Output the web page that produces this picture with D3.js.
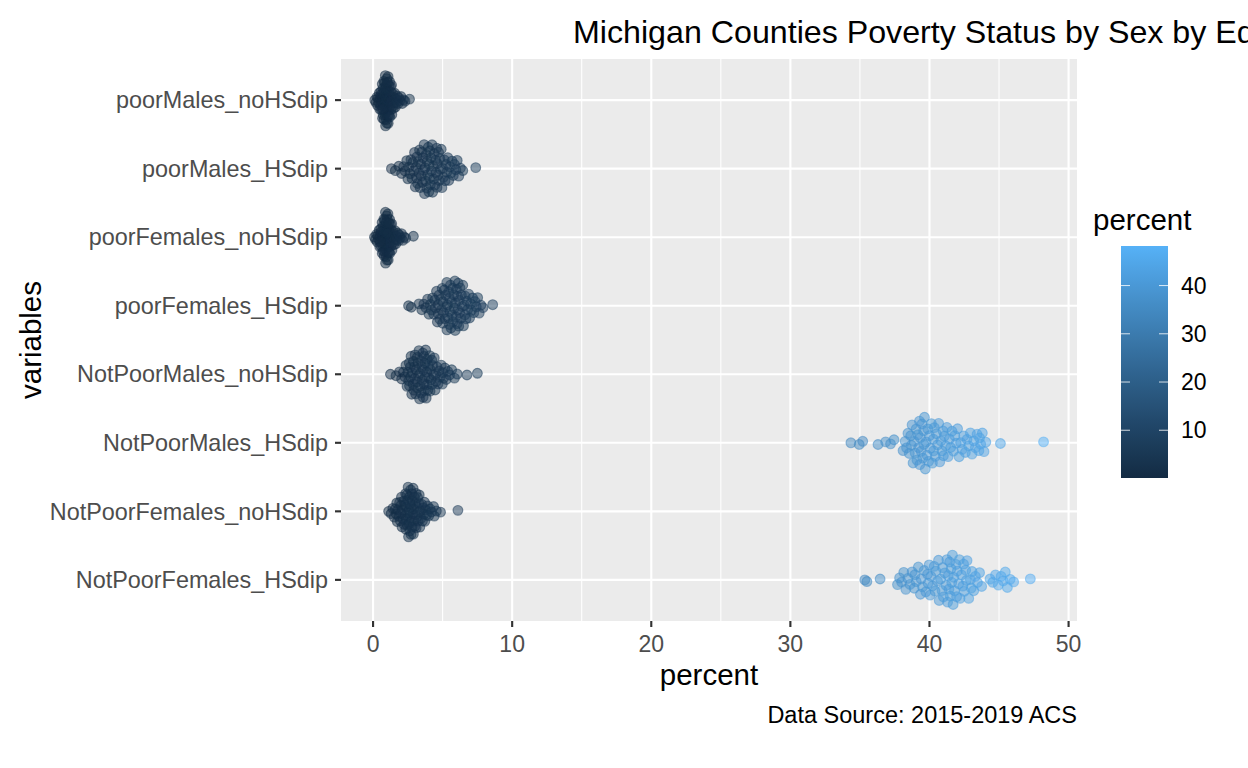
<!DOCTYPE html>
<html>
<head>
<meta charset="utf-8">
<script src="https://cdn.jsdelivr.net/npm/d3@7"></script>
<style>
  body { margin: 0; background: #fff; }
  text { font-family: "Liberation Sans", Arial, Helvetica, sans-serif; }
</style>
</head>
<body>
<div id="vis"></div>
<script>
// categories, top to bottom
const categories = [
  "poorMales_noHSdip", "poorMales_HSdip", "poorFemales_noHSdip", "poorFemales_HSdip",
  "NotPoorMales_noHSdip", "NotPoorMales_HSdip", "NotPoorFemales_noHSdip", "NotPoorFemales_HSdip"
];

// percent per county (83 counties)
const poorMales_noHSdip = [
  0.12, 0.21, 0.28, 0.33, 0.37, 0.41, 0.45, 0.48, 0.52, 0.55,
  0.57, 0.6, 0.62, 0.64, 0.66, 0.68, 0.7, 0.72, 0.73, 0.75,
  0.77, 0.78, 0.8, 0.81, 0.83, 0.84, 0.86, 0.87, 0.88, 0.9,
  0.91, 0.92, 0.94, 0.95, 0.96, 0.97, 0.99, 1.0, 1.01, 1.02,
  1.04, 1.05, 1.06, 1.08, 1.09, 1.1, 1.12, 1.13, 1.15, 1.16,
  1.18, 1.19, 1.21, 1.23, 1.25, 1.27, 1.29, 1.31, 1.33, 1.35,
  1.38, 1.4, 1.43, 1.46, 1.49, 1.52, 1.56, 1.6, 1.64, 1.69,
  1.74, 1.8, 1.86, 1.93, 2.01, 2.1, 2.19, 2.3, 2.62, 0.86,
  1.03, 1.2, 0.7
];
const poorMales_HSdip = [
  1.32, 1.6, 1.85, 2.05, 2.2, 2.3, 2.42, 2.5, 2.58, 2.66,
  2.72, 2.8, 2.86, 2.92, 2.98, 3.04, 3.1, 3.15, 3.2, 3.25,
  3.3, 3.34, 3.38, 3.43, 3.47, 3.51, 3.55, 3.59, 3.63, 3.67,
  3.7, 3.74, 3.78, 3.82, 3.86, 3.9, 3.93, 3.97, 4.01, 4.05,
  4.08, 4.12, 4.16, 4.2, 4.24, 4.28, 4.32, 4.36, 4.4, 4.44,
  4.49, 4.53, 4.57, 4.62, 4.66, 4.71, 4.75, 4.8, 4.85, 4.9,
  4.95, 5.0, 5.06, 5.12, 5.18, 5.24, 5.3, 5.37, 5.44, 5.52,
  5.6, 5.68, 5.77, 5.86, 5.95, 6.05, 6.16, 6.28, 6.45, 7.38,
  3.12, 4.03, 4.6
];
const poorFemales_noHSdip = [
  0.1, 0.18, 0.25, 0.3, 0.35, 0.4, 0.44, 0.48, 0.51, 0.55,
  0.58, 0.6, 0.63, 0.65, 0.68, 0.7, 0.72, 0.74, 0.76, 0.78,
  0.8, 0.81, 0.83, 0.85, 0.86, 0.88, 0.89, 0.91, 0.92, 0.94,
  0.95, 0.97, 0.98, 1.0, 1.01, 1.03, 1.04, 1.06, 1.07, 1.09,
  1.1, 1.12, 1.14, 1.15, 1.17, 1.19, 1.21, 1.23, 1.25, 1.27,
  1.29, 1.31, 1.34, 1.36, 1.39, 1.42, 1.45, 1.48, 1.51, 1.55,
  1.59, 1.63, 1.67, 1.72, 1.77, 1.83, 1.89, 1.96, 2.04, 2.13,
  2.23, 2.35, 2.9, 0.75, 0.9, 1.05, 0.66, 0.84, 1.2, 0.52,
  1.0, 0.93, 1.13
];
const poorFemales_HSdip = [
  2.55, 2.75, 3.3, 3.5, 3.65, 3.8, 3.92, 4.02, 4.12, 4.2,
  4.28, 4.36, 4.43, 4.5, 4.56, 4.62, 4.68, 4.74, 4.8, 4.86,
  4.92, 4.97, 5.02, 5.07, 5.12, 5.17, 5.22, 5.27, 5.31, 5.35,
  5.4, 5.44, 5.48, 5.52, 5.56, 5.6, 5.64, 5.68, 5.72, 5.76,
  5.8, 5.84, 5.88, 5.92, 5.96, 6.0, 6.04, 6.08, 6.12, 6.16,
  6.2, 6.25, 6.3, 6.35, 6.4, 6.45, 6.5, 6.56, 6.62, 6.68,
  6.74, 6.8, 6.87, 6.94, 7.01, 7.08, 7.16, 7.24, 7.33, 7.42,
  7.52, 7.63, 7.75, 7.9, 8.6, 5.5, 5.9, 6.1, 4.7, 5.3,
  6.6, 5.0, 6.22
];
const NotPoorMales_noHSdip = [
  1.25, 1.65, 1.9, 2.05, 2.18, 2.28, 2.36, 2.44, 2.5, 2.56,
  2.62, 2.68, 2.73, 2.78, 2.83, 2.88, 2.93, 2.98, 3.02, 3.06,
  3.1, 3.14, 3.18, 3.22, 3.26, 3.3, 3.34, 3.38, 3.42, 3.46,
  3.5, 3.54, 3.58, 3.62, 3.66, 3.7, 3.74, 3.78, 3.82, 3.86,
  3.9, 3.94, 3.98, 4.02, 4.07, 4.12, 4.17, 4.22, 4.28, 4.34,
  4.4, 4.46, 4.53, 4.6, 4.67, 4.74, 4.82, 4.9, 4.98, 5.07,
  5.16, 5.26, 5.37, 5.5, 5.65, 5.85, 6.05, 6.75, 7.5, 3.6,
  3.2, 2.7, 4.1, 3.0, 3.75, 4.5, 2.9, 3.4, 5.0, 4.25,
  3.65, 2.6, 3.85
];
const NotPoorMales_HSdip = [
  34.35, 34.95, 35.2, 36.3, 36.85, 37.2, 37.45, 38.1, 38.25, 38.35,
  38.45, 38.55, 38.65, 38.75, 38.82, 38.9, 38.97, 39.04, 39.1, 39.16,
  39.22, 39.28, 39.34, 39.4, 39.46, 39.52, 39.58, 39.64, 39.7, 39.76,
  39.82, 39.88, 39.94, 40.0, 40.07, 40.14, 40.21, 40.28, 40.35, 40.42,
  40.5, 40.58, 40.66, 40.74, 40.82, 40.9, 40.98, 41.07, 41.16, 41.25,
  41.34, 41.43, 41.52, 41.62, 41.72, 41.82, 41.92, 42.02, 42.13, 42.24,
  42.35, 42.46, 42.58, 42.7, 42.82, 42.94, 43.06, 43.18, 43.3, 43.42,
  43.55, 43.68, 43.8, 43.92, 44.05, 45.1, 48.2, 39.3, 39.6, 40.3,
  38.7, 41.0, 43.6
];
const NotPoorFemales_noHSdip = [
  1.12, 1.3, 1.42, 1.52, 1.6, 1.67, 1.74, 1.8, 1.86, 1.91,
  1.96, 2.0, 2.04, 2.08, 2.12, 2.16, 2.2, 2.24, 2.28, 2.31,
  2.34, 2.37, 2.4, 2.43, 2.46, 2.49, 2.52, 2.55, 2.58, 2.61,
  2.64, 2.67, 2.7, 2.73, 2.76, 2.79, 2.82, 2.85, 2.88, 2.91,
  2.94, 2.97, 3.0, 3.03, 3.06, 3.09, 3.12, 3.16, 3.2, 3.24,
  3.28, 3.32, 3.36, 3.4, 3.45, 3.5, 3.55, 3.6, 3.66, 3.72,
  3.78, 3.85, 3.92, 4.0, 4.1, 4.2, 4.35, 4.55, 4.85, 6.1,
  2.6, 2.75, 2.5, 2.9, 3.1, 2.35, 3.3, 2.0, 2.8, 3.7,
  2.65, 1.7, 4.4
];
const NotPoorFemales_HSdip = [
  35.35, 35.5, 36.45, 37.7, 37.85, 38.0, 38.15, 38.3, 38.45, 38.6,
  38.75, 38.9, 39.05, 39.2, 39.35, 39.5, 39.62, 39.74, 39.86, 39.98,
  40.1, 40.22, 40.34, 40.46, 40.58, 40.7, 40.8, 40.9, 41.0, 41.1,
  41.2, 41.3, 41.4, 41.5, 41.6, 41.7, 41.8, 41.9, 42.0, 42.1,
  42.2, 42.3, 42.4, 42.5, 42.6, 42.7, 42.82, 42.94, 43.06, 43.18,
  43.3, 43.45, 43.6, 43.75, 44.35, 44.55, 44.75, 44.95, 45.15, 45.3,
  45.45, 45.6, 45.8, 46.05, 47.25, 41.45, 41.65, 41.55, 40.95, 42.15,
  41.35, 40.65, 42.45, 39.9, 41.75, 43.0, 38.95, 40.4, 41.25, 42.65,
  41.95, 40.05, 39.4
];

const xTicks = [0, 10, 20, 30, 40, 50];
const xMinor = [5, 15, 25, 35, 45];
const legendTicks = [10, 20, 30, 40];

const series = [
  poorMales_noHSdip, poorMales_HSdip, poorFemales_noHSdip, poorFemales_HSdip,
  NotPoorMales_noHSdip, NotPoorMales_HSdip, NotPoorFemales_noHSdip, NotPoorFemales_HSdip
];

const W = 1248, H = 768,
  panelL = 341, panelR = 1077, panelT = 59, panelB = 621;

const svg = d3.select("#vis").append("svg")
  .attr("width", W).attr("height", H)
  .attr("viewBox", `0 0 ${W} ${H}`);

const all = series.flat();
const ext = d3.extent(all);
const pad = (ext[1] - ext[0]) * 0.05;

const x = d3.scaleLinear().domain([ext[0] - pad, ext[1] + pad]).range([panelL, panelR]);
const y = d3.scalePoint().domain(categories).range([panelT, panelB]).padding(0.6);
const color = d3.scaleLinear().domain(ext).range(["#132B43", "#56B1F7"]).interpolate(d3.interpolateLab);

// panel + grid
svg.append("rect").attr("x", panelL).attr("y", panelT)
  .attr("width", panelR - panelL).attr("height", panelB - panelT).attr("fill", "#EBEBEB");

svg.append("g").selectAll("line").data(xMinor).join("line")
  .attr("x1", d => x(d)).attr("x2", d => x(d)).attr("y1", panelT).attr("y2", panelB)
  .attr("stroke", "#fff").attr("stroke-width", 1.07);
svg.append("g").selectAll("line").data(xTicks).join("line")
  .attr("x1", d => x(d)).attr("x2", d => x(d)).attr("y1", panelT).attr("y2", panelB)
  .attr("stroke", "#fff").attr("stroke-width", 2.13);
svg.append("g").selectAll("line").data(categories).join("line")
  .attr("x1", panelL).attr("x2", panelR).attr("y1", d => y(d)).attr("y2", d => y(d))
  .attr("stroke", "#fff").attr("stroke-width", 2.13);

// quasirandom offsets (like ggbeeswarm::geom_quasirandom)
function vdc(n) {
  let v = 0, denom = 1;
  while (n > 0) { denom *= 2; v += (n % 2) / denom; n = Math.floor(n / 2); }
  return v;
}
function quasiOffsets(vals, width) {
  const n = vals.length;
  const sorted = vals.slice().sort(d3.ascending);
  const iqr = d3.quantile(sorted, 0.75) - d3.quantile(sorted, 0.25);
  const bw = 0.9 * Math.min(d3.deviation(vals), iqr / 1.34) * Math.pow(n, -0.2) * 0.5;
  const dens = vals.map(v => d3.sum(vals, u => Math.exp(-0.5 * ((v - u) / bw) ** 2)));
  const maxD = d3.max(dens);
  const order = d3.range(n).sort((a, b) => vals[a] - vals[b] || a - b);
  const rank = new Array(n);
  order.forEach((idx, r) => rank[idx] = r + 1);
  return vals.map((v, i) => (vdc(rank[i]) - 0.5) * 2 * width * dens[i] / maxD);
}

const pts = [];
series.forEach((vals, gi) => {
  const offs = quasiOffsets(vals, 0.4);
  vals.forEach((v, i) => pts.push({ cat: categories[gi], v, off: offs[i] }));
});

const step = y.step();
svg.append("g").selectAll("circle").data(pts).join("circle")
  .attr("cx", d => x(d.v))
  .attr("cy", d => y(d.cat) - d.off * step)
  .attr("r", 4.9)
  .attr("fill", d => color(d.v)).attr("fill-opacity", 0.5)
  .attr("stroke", d => color(d.v)).attr("stroke-opacity", 0.5).attr("stroke-width", 1.1);

// axes
const xAxis = svg.append("g");
xAxis.selectAll("line").data(xTicks).join("line")
  .attr("x1", d => x(d)).attr("x2", d => x(d)).attr("y1", panelB).attr("y2", panelB + 6)
  .attr("stroke", "#333").attr("stroke-width", 2.13);
xAxis.selectAll("text").data(xTicks).join("text")
  .attr("x", d => x(d)).attr("y", 652)
  .attr("text-anchor", "middle").attr("font-size", 23).attr("fill", "#4D4D4D")
  .text(d => d);

const yAxis = svg.append("g");
yAxis.selectAll("line").data(categories).join("line")
  .attr("x1", panelL - 6).attr("x2", panelL).attr("y1", d => y(d)).attr("y2", d => y(d))
  .attr("stroke", "#333").attr("stroke-width", 2.13);
yAxis.selectAll("text").data(categories).join("text")
  .attr("x", panelL - 13).attr("y", d => y(d)).attr("dy", "0.35em")
  .attr("text-anchor", "end").attr("font-size", 23.4).attr("fill", "#4D4D4D")
  .text(d => d);

svg.append("text").attr("x", (panelL + panelR) / 2).attr("y", 685)
  .attr("text-anchor", "middle").attr("font-size", 29.5).attr("fill", "#000").text("percent");
svg.append("text").attr("transform", `translate(41,${(panelT + panelB) / 2}) rotate(-90)`)
  .attr("text-anchor", "middle").attr("font-size", 29.5).attr("fill", "#000").text("variables");

// title runs past the right edge, as in the original
svg.append("text").attr("x", 573).attr("y", 43)
  .attr("font-size", 32.2).attr("fill", "#000")
  .text("Michigan Counties Poverty Status by Sex by Education");

svg.append("text").attr("x", panelR).attr("y", 723)
  .attr("text-anchor", "end").attr("font-size", 23.5).attr("fill", "#000")
  .text("Data Source: 2015-2019 ACS");

// legend colourbar
const barL = 1121, barW = 47, barT = 246, barB = 478;
const ly = d3.scaleLinear().domain(ext).range([barB, barT]);
const grad = svg.append("defs").append("linearGradient").attr("id", "cbar")
  .attr("x1", 0).attr("x2", 0).attr("y1", 1).attr("y2", 0);
grad.selectAll("stop").data(d3.range(0, 1.0001, 0.05)).join("stop")
  .attr("offset", d => d)
  .attr("stop-color", d => color(ext[0] + d * (ext[1] - ext[0])));

const legend = svg.append("g");
legend.append("text").attr("x", 1093).attr("y", 230)
  .attr("font-size", 29.5).attr("fill", "#000").text("percent");
legend.append("rect").attr("x", barL).attr("y", barT).attr("width", barW).attr("height", barB - barT)
  .attr("fill", "url(#cbar)");
legend.selectAll("line.l").data(legendTicks).join("line").attr("class", "l")
  .attr("x1", barL).attr("x2", barL + 9).attr("y1", d => ly(d)).attr("y2", d => ly(d))
  .attr("stroke", "#fff").attr("stroke-opacity", 0.8).attr("stroke-width", 1);
legend.selectAll("line.r").data(legendTicks).join("line").attr("class", "r")
  .attr("x1", barL + barW - 9).attr("x2", barL + barW).attr("y1", d => ly(d)).attr("y2", d => ly(d))
  .attr("stroke", "#fff").attr("stroke-opacity", 0.8).attr("stroke-width", 1);
legend.selectAll("text.t").data(legendTicks).join("text").attr("class", "t")
  .attr("x", 1181).attr("y", d => ly(d)).attr("dy", "0.35em")
  .attr("font-size", 23).attr("fill", "#000").text(d => d);
</script>
</body>
</html>
